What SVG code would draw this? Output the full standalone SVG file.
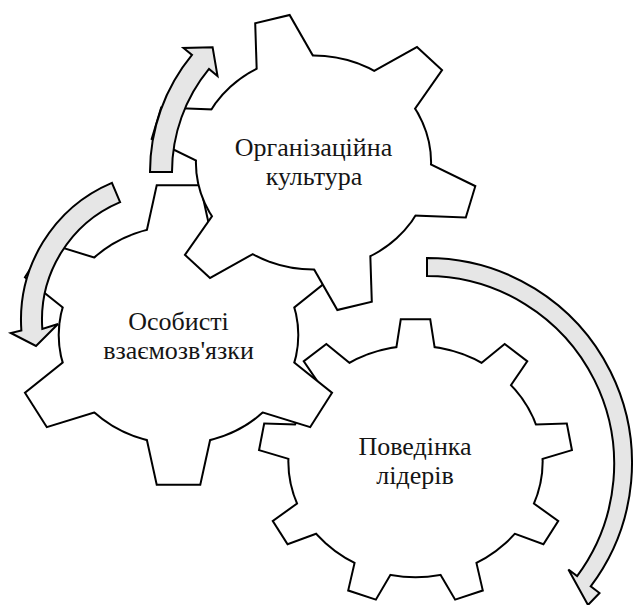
<svg xmlns="http://www.w3.org/2000/svg" xmlns:xlink="http://www.w3.org/1999/xlink" width="637" height="605" viewBox="0 0 637 605">
  <style>
    .edge { fill: none; stroke: #000; stroke-width: 4; stroke-linejoin: miter; }
    .face { fill: #fff; stroke: none; }
    .label { font-size: 26px; fill: #151515; text-anchor: middle; }
    .arrow { fill: #e6e6e6; stroke: #000; stroke-width: 2; stroke-linejoin: miter; }
  </style>
  <defs>
    <!-- one tooth per gear, pointing up, in unscaled gear coordinates -->
    <path id="tooth-culture" d="M-29.7,-85.1 L-15.47,-147.19 L15.47,-147.19 L29.7,-85.1 Z" vector-effect="non-scaling-stroke"/>
    <path id="tooth-relations" d="M-31.5,-86.5 L-19.06,-148.78 L19.06,-148.78 L31.5,-86.5 Z" vector-effect="non-scaling-stroke"/>
    <path id="tooth-leaders" d="M-18.5,-99.7 L-12.6,-141.14 L12.6,-141.14 L18.5,-99.7 Z" vector-effect="non-scaling-stroke"/>

    <!-- six-tooth gear -->
    <g id="shape-culture">
      <circle r="106" vector-effect="non-scaling-stroke"/>
      <use xlink:href="#tooth-culture" transform="rotate(-14.6)"/>
      <use xlink:href="#tooth-culture" transform="rotate(45.4)"/>
      <use xlink:href="#tooth-culture" transform="rotate(105.4)"/>
      <use xlink:href="#tooth-culture" transform="rotate(165.4)"/>
      <use xlink:href="#tooth-culture" transform="rotate(225.4)"/>
      <use xlink:href="#tooth-culture" transform="rotate(285.4)"/>
    </g>

    <!-- six-tooth gear -->
    <g id="shape-relations">
      <circle r="108" vector-effect="non-scaling-stroke"/>
      <use xlink:href="#tooth-relations"/>
      <use xlink:href="#tooth-relations" transform="rotate(60)"/>
      <use xlink:href="#tooth-relations" transform="rotate(120)"/>
      <use xlink:href="#tooth-relations" transform="rotate(180)"/>
      <use xlink:href="#tooth-relations" transform="rotate(240)"/>
      <use xlink:href="#tooth-relations" transform="rotate(300)"/>
    </g>

    <!-- nine-tooth gear -->
    <g id="shape-leaders">
      <circle r="114.7" vector-effect="non-scaling-stroke"/>
      <use xlink:href="#tooth-leaders"/>
      <use xlink:href="#tooth-leaders" transform="rotate(40)"/>
      <use xlink:href="#tooth-leaders" transform="rotate(80)"/>
      <use xlink:href="#tooth-leaders" transform="rotate(120)"/>
      <use xlink:href="#tooth-leaders" transform="rotate(160)"/>
      <use xlink:href="#tooth-leaders" transform="rotate(200)"/>
      <use xlink:href="#tooth-leaders" transform="rotate(240)"/>
      <use xlink:href="#tooth-leaders" transform="rotate(280)"/>
      <use xlink:href="#tooth-leaders" transform="rotate(320)"/>
    </g>
  </defs>

  <rect width="637" height="605" fill="#fff"/>

  <g font-family="Liberation Serif, Times New Roman, serif">
    <!-- bottom gear -->
    <g id="node-leaders">
      <g transform="translate(415.5 461.5) scale(1.1 1)">
        <use xlink:href="#shape-leaders" class="edge"/>
        <use xlink:href="#shape-leaders" class="face"/>
      </g>
      <text class="label" x="415" y="455">Поведінка</text>
      <text class="label" x="415" y="484">лідерів</text>
    </g>

    <!-- left gear -->
    <g id="node-relations">
      <g transform="translate(178.5 335) scale(1.1 1)">
        <use xlink:href="#shape-relations" class="edge"/>
        <use xlink:href="#shape-relations" class="face"/>
      </g>
      <text class="label" x="178.5" y="330">Особисті</text>
      <text class="label" x="178.5" y="359">взаємозв'язки</text>
    </g>

    <!-- top gear -->
    <g id="node-culture">
      <g transform="translate(313.5 162.5) scale(1.1 1)">
        <use xlink:href="#shape-culture" class="edge"/>
        <use xlink:href="#shape-culture" class="face"/>
      </g>
      <text class="label" x="313.5" y="156">Організаційна</text>
      <text class="label" x="314" y="185">культура</text>
    </g>
  </g>

  <!-- curved arrows -->
  <g id="connectors">
    <path class="arrow" d="M150,172 A184,184 0 0 1 192.0,54.96 L183.5,47.96 L212.6,47.3 L217.5,75.95 L209.0,68.95 A162,162 0 0 0 172,172 Z"/>
    <path class="arrow" d="M111.9,182.8 A149,149 0 0 0 21.36,330.39 L10.8,333 L36,346 L58,324 L42.31,328.93 A128,128 0 0 1 120.1,202.1 Z"/>
    <path class="arrow" d="M427,258 A205,205 0 0 1 590.7,586.4 L599.5,593 L588,605 L568.4,569.5 L577.1,576.1 A188,188 0 0 0 427,276 Z"/>
  </g>
</svg>
